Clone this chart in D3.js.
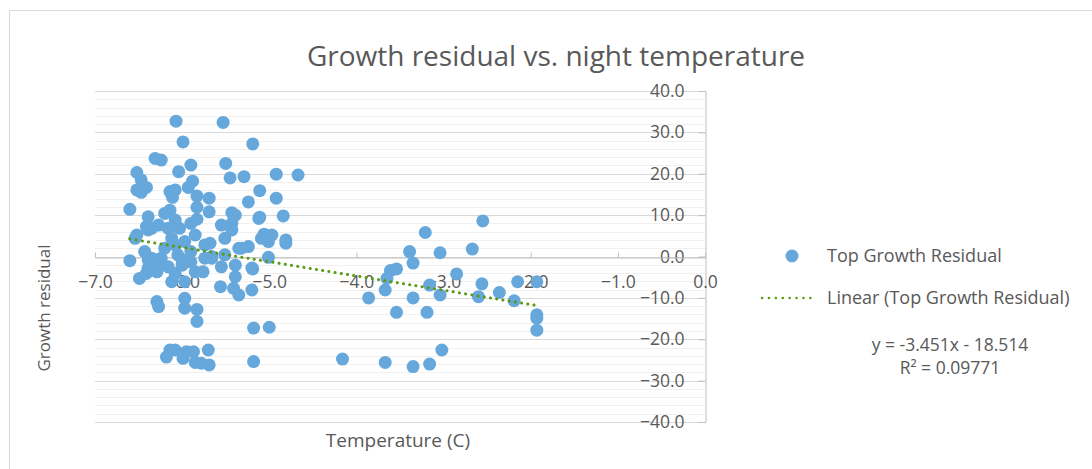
<!DOCTYPE html>
<html lang="en">
<head>
    <meta charset="UTF-8">
    <title>Growth residual vs. night temperature</title>
    <script src="https://cdn.jsdelivr.net/npm/d3@7"></script>
    <style>
        body { margin: 0; background: #fff; }
        text { font-family: "Open Sans", sans-serif; fill: #595959; }
    </style>
</head>
<body>
    <div id="chart"></div>
    <script>
        // night temperature (C)
        var temps = [
            -2.55, -3.21, -3.39, -3.04, -2.67, -3.35, -3.61, -3.54, -3.65, -3.67, -3.86, -3.35, -3.54, -3.19, -3.16, -3.04,
            -2.85, -2.56, -2.60, -2.36, -2.19, -2.15, -1.93, -1.93, -1.93, -1.93, -4.16, -3.67, -3.35, -3.16, -3.02,
            -6.07, -5.53, -5.99, -5.19, -6.31, -6.24, -5.90, -5.50, -6.04, -6.52, -5.45, -5.29, -4.92, -4.67, -6.47, -6.41,
            -6.52, -6.47, -5.88, -5.93, -6.14, -6.08, -6.11, -5.83, -5.69, -5.11, -4.92, -5.24, -6.60, -6.39, -6.20, -6.14,
            -5.83, -5.69, -5.43, -5.11, -4.84, -5.83, -5.43, -6.41, -5.06, -4.81,
            -6.52, -6.60, -6.39, -6.49, -6.41, -6.29, -5.01, -4.97, -4.81, -5.01, -5.32, -5.66, -5.68, -5.76, -5.85, -6.08,
            -6.16, -6.00, -6.39, -6.08, -6.27, -6.35, -6.16, -6.03, -5.90, -5.85, -5.97, -6.12, -6.20, -6.24, -6.35, -6.00,
            -5.90, -6.05, -5.90, -5.51, -5.43, -5.55, -5.39, -5.66, -5.51, -5.35, -5.24, -5.39, -5.55, -5.20, -5.39, -5.12,
            -5.09, -6.12, -5.97, -5.74, -5.74, -6.08, -6.43, -6.54, -6.27, -6.39,
            -6.29, -6.27, -5.97, -5.97, -5.83, -5.83, -5.56, -5.41, -5.35, -5.20, -5.19, -5.18, -5.00, -5.18, -6.14, -6.08,
            -6.18, -5.99, -5.87, -5.85, -5.70, -5.69, -5.78, -5.95
        ];
        // top growth residual
        var residuals = [
            8.6, 5.8, 1.2, 0.9, 1.8, -1.6, -3.4, -3.0, -5.3, -8.1, -10.0, -10.0, -13.5, -13.5, -6.9, -9.3,
            -4.2, -6.6, -9.7, -8.7, -10.7, -6.1, -6.1, -14.1, -14.9, -17.8, -24.8, -25.6, -26.6, -26.0, -22.6,
            32.7, 32.4, 27.7, 27.2, 23.7, 23.3, 22.1, 22.5, 20.5, 20.3, 19.0, 19.3, 19.9, 19.7, 18.5, 16.7,
            16.1, 15.5, 18.2, 16.7, 15.7, 16.1, 14.3, 14.6, 14.1, 15.9, 14.1, 13.2, 11.4, 9.6, 10.4, 11.2,
            11.9, 10.8, 10.6, 9.5, 9.8, 9.0, 8.0, 7.2, 5.4, 4.0,
            5.2, -1.0, -0.8, -5.3, -4.1, -3.7, 3.6, 5.2, 3.2, -0.2, 2.0, -0.4, 3.2, -3.7, -3.7, -4.1,
            -2.5, -0.8, 6.4, 8.8, 7.6, 6.8, 6.8, 6.8, 8.0, 5.2, 3.6, 4.4, 2.0, -0.4, -0.4, -2.1,
            -1.3, 0.4, 1.2, 4.4, 6.4, 7.6, 10.0, 0.0, 0.4, 2.0, 2.4, -2.1, -2.5, -2.8, -4.9, 9.2,
            4.4, -6.1, -6.1, -0.4, 2.8, 2.8, 1.2, 4.4, -2.1, -2.8,
            -10.9, -12.1, -10.1, -12.5, -12.8, -15.7, -7.3, -7.7, -9.3, -8.1, -3.0, -17.3, -17.1, -25.4, -22.6, -22.6,
            -24.3, -24.6, -23.0, -25.6, -22.6, -26.2, -25.8, -23.0
        ];
        var xTicks = [-7, -6, -5, -4, -3, -2, -1, 0];
        var yTicks = [-40, -30, -20, -10, 0, 10, 20, 30, 40];
        var slope = -3.451;
        var intercept = -18.514;
        var equationText = "y = -3.451x - 18.514";
        var r2Text = "R² = 0.09771";

        var W = 1092, H = 469;
        var plot = { left: 95, right: 705, top: 91, bottom: 422 };

        var svg = d3.select("#chart").append("svg")
            .attr("width", W)
            .attr("height", H);

        // chart frame
        svg.append("rect")
            .attr("x", 9.5).attr("y", 10.5)
            .attr("width", W + 10).attr("height", H + 10)
            .attr("fill", "#fff")
            .attr("stroke", "#d9d9d9");

        var x = d3.scaleLinear().domain([-7, 0]).range([plot.left, plot.right]);
        var y = d3.scaleLinear().domain([-40, 40]).range([plot.bottom, plot.top]);

        // minor gridlines every 2
        svg.append("g").selectAll("line")
            .data(d3.range(-40, 41, 2).filter(v => v % 10 !== 0))
            .enter().append("line")
            .attr("x1", plot.left).attr("x2", plot.right)
            .attr("y1", d => Math.round(y(d)) + 0.5).attr("y2", d => Math.round(y(d)) + 0.5)
            .attr("stroke", "#f0f0f0");

        // major gridlines
        svg.append("g").selectAll("line")
            .data(yTicks)
            .enter().append("line")
            .attr("x1", plot.left).attr("x2", plot.right)
            .attr("y1", d => Math.round(y(d)) + 0.5).attr("y2", d => Math.round(y(d)) + 0.5)
            .attr("stroke", "#d9d9d9");

        // y axis sits at x = 0 (right side)
        var yAxis = svg.append("g")
            .attr("transform", `translate(${plot.right + 0.5},0)`)
            .call(d3.axisLeft(y).tickValues(yTicks).tickSize(7).tickPadding(14).tickFormat(d3.format(".1f")));
        yAxis.select(".domain").attr("stroke", "#bfbfbf");
        yAxis.selectAll(".tick line").attr("stroke", "#bfbfbf");
        yAxis.selectAll("text").style("font-size", "17.5px").attr("fill", "#595959");

        // x axis sits at y = 0
        var xAxis = svg.append("g")
            .attr("transform", `translate(0,${Math.round(y(0)) + 0.5})`)
            .call(d3.axisBottom(x).tickValues(xTicks).tickSizeInner(-5).tickSizeOuter(0).tickPadding(18).tickFormat(d3.format(".1f")));
        xAxis.select(".domain").attr("stroke", "#bfbfbf");
        xAxis.selectAll(".tick line").attr("stroke", "#bfbfbf");
        xAxis.selectAll("text").style("font-size", "17.5px").attr("fill", "#595959");

        // points
        var points = temps.map((t, i) => ({ t: t, r: residuals[i] }));
        svg.append("g").selectAll("circle")
            .data(points)
            .enter().append("circle")
            .attr("cx", d => x(d.t))
            .attr("cy", d => y(d.r))
            .attr("r", 6.5)
            .attr("fill", "#66a8dc");

        // linear trend line
        var ext = d3.extent(temps);
        svg.append("line")
            .attr("x1", x(ext[0])).attr("y1", y(slope * ext[0] + intercept))
            .attr("x2", x(ext[1])).attr("y2", y(slope * ext[1] + intercept))
            .attr("stroke", "#5a9a16")
            .attr("stroke-width", 3)
            .attr("stroke-linecap", "round")
            .attr("stroke-dasharray", "0.1,6.2");

        // title
        svg.append("text")
            .attr("x", 556).attr("y", 66)
            .attr("text-anchor", "middle")
            .style("font-size", "28px")
            .text("Growth residual vs. night temperature");

        // axis titles
        svg.append("text")
            .attr("x", 398).attr("y", 447)
            .attr("text-anchor", "middle")
            .style("font-size", "19px")
            .text("Temperature (C)");

        svg.append("text")
            .attr("transform", "translate(50,308) rotate(-90)")
            .attr("text-anchor", "middle")
            .style("font-size", "17px")
            .text("Growth residual");

        // legend
        svg.append("circle")
            .attr("cx", 792).attr("cy", 256)
            .attr("r", 6.5)
            .attr("fill", "#66a8dc");
        svg.append("text")
            .attr("x", 827).attr("y", 262)
            .style("font-size", "18px")
            .text("Top Growth Residual");

        svg.append("line")
            .attr("x1", 762).attr("x2", 817)
            .attr("y1", 298).attr("y2", 298)
            .attr("stroke", "#5a9a16")
            .attr("stroke-width", 2.5)
            .attr("stroke-linecap", "round")
            .attr("stroke-dasharray", "0.1,6.8");
        svg.append("text")
            .attr("x", 827).attr("y", 304)
            .style("font-size", "18px")
            .text("Linear (Top Growth Residual)");

        svg.append("text")
            .attr("x", 950).attr("y", 351)
            .attr("text-anchor", "middle")
            .style("font-size", "17.5px")
            .text(equationText);
        svg.append("text")
            .attr("x", 950).attr("y", 374)
            .attr("text-anchor", "middle")
            .style("font-size", "17.5px")
            .text(r2Text);
    </script>
</body>
</html>
